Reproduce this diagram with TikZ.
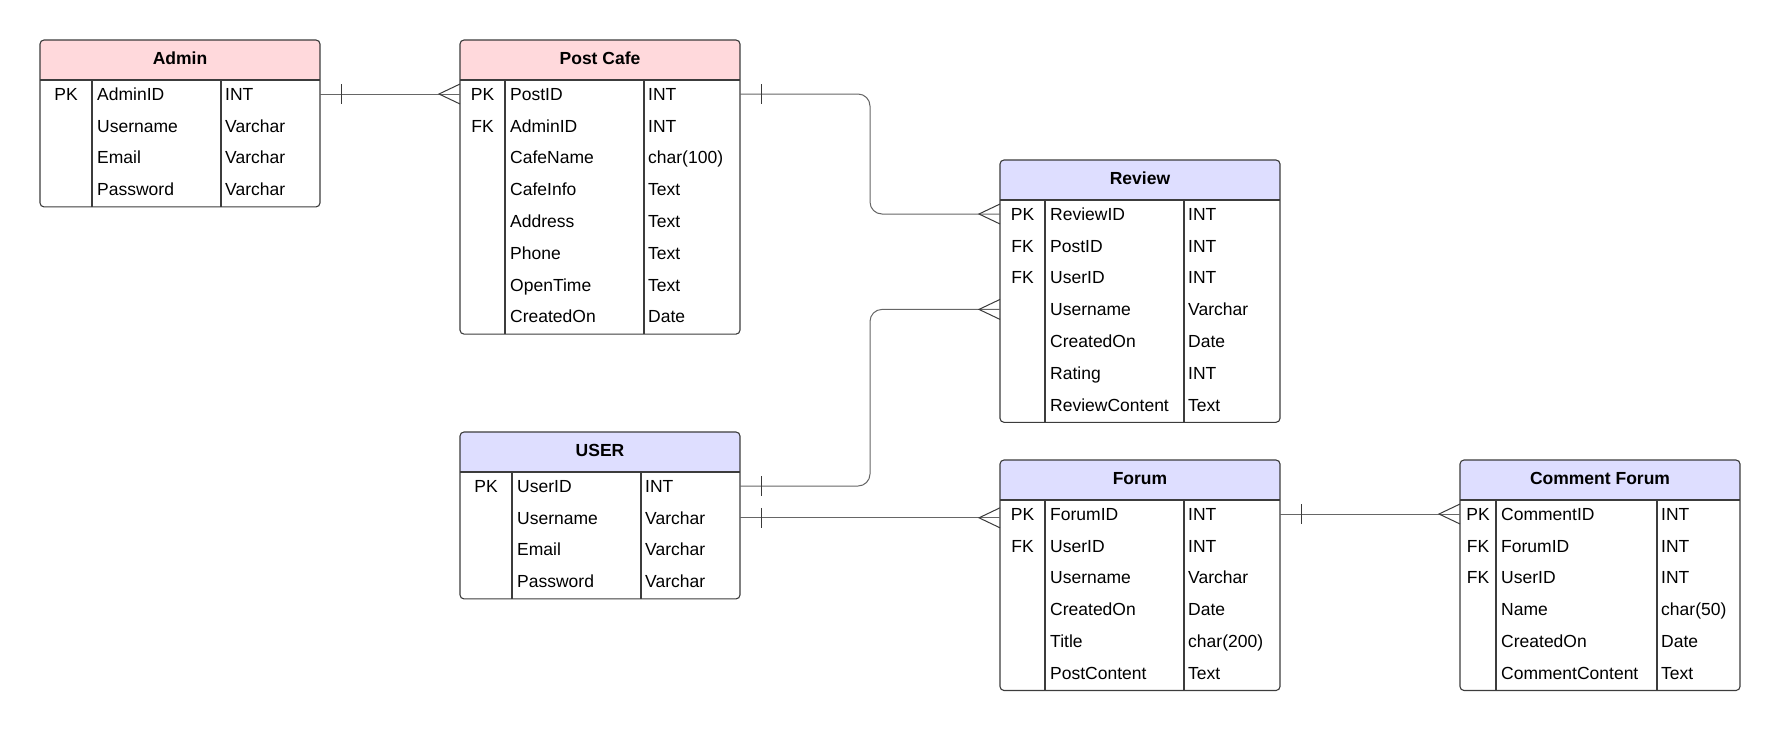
\documentclass[tikz,border=0pt]{standalone}
\usepackage{fontspec}
\setmainfont{Liberation Sans}
\usetikzlibrary{calc}
\definecolor{pinkh}{HTML}{FFD9DC}
\definecolor{blueh}{HTML}{DEDEFF}
\definecolor{edgec}{HTML}{3C3C3C}
\definecolor{relc}{HTML}{666666}
\definecolor{barc}{HTML}{3A3A3A}
\tikzset{
  tbl/.style={draw=edgec, line width=1.1pt, rounded corners=4pt, inner sep=0pt, outer sep=0pt},
  sep/.style={draw=edgec, line width=1.1pt},
  hdr/.style={font=\fontsize{17.5}{21}\selectfont\bfseries, inner sep=0pt, text height=12.5pt, text depth=0pt},
  cell/.style={font=\fontsize{17.5}{21}\selectfont, inner sep=0pt, text height=12.5pt, text depth=0pt},
  rel/.style={draw=relc, line width=1pt},
  relend/.style={draw=barc, line width=1pt},
  one/.pic={\draw[relend] (0,-10) -- (0,10);},
  many/.pic={\draw[relend] (0,-10) -- (-21,0) -- (0,10);}
}
% #1 name, #2 left, #3 top, #4 divider 1, #5 divider 2, #6 colour, #7 title, #8 rows, #9 row count
\newcommand{\ertab}[9]{%
  \pgfmathsetmacro\hb{#3+40}%
  \pgfmathsetmacro\bt{\hb+14+(#9-1)*31.8+17.5}%
  \pgfmathsetmacro\hh{\bt-#3}%
  \begin{scope}
    \clip[rounded corners=4pt] (#2,#3) rectangle ++(280,\hh);
    \fill[#6] (#2,#3) rectangle (#2+280,\hb);
  \end{scope}
  \node[tbl, minimum width=280pt, minimum height={\hh pt}, anchor=north west] (#1) at (#2,#3) {};
  \draw[sep] (#2,\hb) -- (#2+280,\hb);
  \draw[sep] (#4,\hb) -- (#4,\bt);
  \draw[sep] (#5,\hb) -- (#5,\bt);
  \node[hdr] (#1-t) at (#2+140,#3+18) {#7};
  \foreach \ky/\nm/\tp [count=\i] in {#8} {
    \pgfmathsetmacro\yy{\hb+14+(\i-1)*31.8}
    \node[cell] (#1-k\i) at ({(#2+#4)/2},\yy) {\ky};
    \node[cell, anchor=west] (#1-\i) at (#4+5,\yy) {\nm};
    \node[cell, anchor=west] (#1-y\i) at (#5+4,\yy) {\tp};
  }
}
\begin{document}
\begin{tikzpicture}[x=1pt, y=-1pt]
\useasboundingbox (0,0) rectangle (1780,732);
\ertab{admin}{40}{40}{92}{221}{pinkh}{Admin}{PK/AdminID/INT, /Username/Varchar, /Email/Varchar, /Password/Varchar}{4}
\ertab{post}{460}{40}{505}{644}{pinkh}{Post Cafe}{PK/PostID/INT, FK/AdminID/INT, /CafeName/char(100), /CafeInfo/Text, /Address/Text, /Phone/Text, /OpenTime/Text, /CreatedOn/Date}{8}
\ertab{review}{1000}{160}{1045}{1184}{blueh}{Review}{PK/ReviewID/INT, FK/PostID/INT, FK/UserID/INT, /Username/Varchar, /CreatedOn/Date, /Rating/INT, /ReviewContent/Text}{7}
\ertab{user}{460}{432}{512}{641}{blueh}{USER}{PK/UserID/INT, /Username/Varchar, /Email/Varchar, /Password/Varchar}{4}
\ertab{forum}{1000}{460}{1045}{1184}{blueh}{Forum}{PK/ForumID/INT, FK/UserID/INT, /Username/Varchar, /CreatedOn/Date, /Title/char(200), /PostContent/Text}{6}
\ertab{comment}{1460}{460}{1496}{1657}{blueh}{Comment Forum}{PK/CommentID/INT, FK/ForumID/INT, FK/UserID/INT, /Name/char(50), /CreatedOn/Date, /CommentContent/Text}{6}

\coordinate (mx) at (870,0);
% Admin -- Post Cafe
\draw[rel] (admin.east |- admin-1) coordinate (s1) -- (post.west |- post-1) coordinate (e1);
\pic at ($(s1)+(21,0)$) {one};
\pic at (e1) {many};
% Post Cafe -- Review
\draw[rel, rounded corners=12pt] (post.east |- post-1) coordinate (s2) -- (mx |- s2) -- (mx |- review-1) -- (review.west |- review-1) coordinate (e2);
\pic at ($(s2)+(21,0)$) {one};
\pic at (e2) {many};
% USER -- Review
\draw[rel, rounded corners=12pt] (user.east |- user-1) coordinate (s3) -- (mx |- s3) -- (mx |- review-4) -- (review.west |- review-4) coordinate (e3);
\pic at ($(s3)+(21,0)$) {one};
\pic at (e3) {many};
% USER -- Forum
\draw[rel] (user.east |- user-2) coordinate (s4) -- (forum.west |- s4) coordinate (e4);
\pic at ($(s4)+(21,0)$) {one};
\pic at (e4) {many};
% Forum -- Comment Forum
\draw[rel] (forum.east |- forum-1) coordinate (s5) -- (comment.west |- s5) coordinate (e5);
\pic at ($(s5)+(21,0)$) {one};
\pic at (e5) {many};
\end{tikzpicture}
\end{document}
